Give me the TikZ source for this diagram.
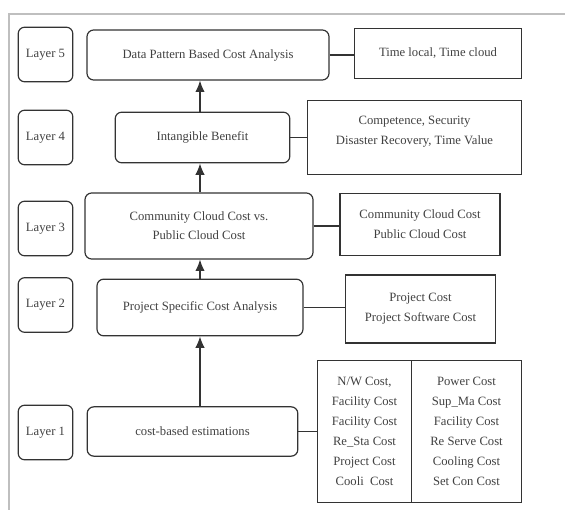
\documentclass[tikz,border=0pt]{standalone}
\usepackage{fontspec}
\setmainfont{Liberation Serif}
\usetikzlibrary{calc, arrows.meta}
\tikzset{>={Latex[length=8.5pt,width=7pt]}}
\tikzset{
  layerbox/.style={draw=black!80, line width=0.9pt, rounded corners=5pt, minimum width=41pt, minimum height=41pt, text=black!75, font=\fontsize{9.5}{14}\selectfont},
  stagebox/.style={draw=black!80, line width=0.9pt, rounded corners=5pt, align=center, text=black!75, font=\fontsize{9.5}{14}\selectfont},
  costbox/.style={draw=black!80, line width=0.9pt, align=center, text=black!75, font=\fontsize{9.5}{15}\selectfont},
  link/.style={draw=black!80, line width=0.9pt}
}

\begin{document}
\begin{tikzpicture}[x=0.75pt, y=-0.75pt]
\useasboundingbox (0,0) rectangle (565,510);
\draw[black!25, line width=1.5pt] (9,515) -- (9,14) -- (570,14);

% layers on the left
\node[layerbox] (lay5) at (45.5,54.5) {Layer 5};
\node[layerbox] (lay4) at (45.5,137.5) {Layer 4};
\node[layerbox] (lay3) at (45.5,228.5) {Layer 3};
\node[layerbox] (lay2) at (45.5,305) {Layer 2};
\node[layerbox] (lay1) at (45.5,432.5) {Layer 1};

% analysis stages
\node[stagebox, minimum width=181.5pt, minimum height=37.5pt] (l5) at (208,55) {Data Pattern Based Cost Analysis};
\node[stagebox, minimum width=131pt, minimum height=38pt] (l4) at (202.5,137.5) {Intangible Benefit};
\node[stagebox, minimum width=171pt, minimum height=49.5pt] (l3) at (199,226) {Community Cloud Cost vs.\\Public Cloud Cost};
\node[stagebox, minimum width=154.5pt, minimum height=42.5pt] (l2) at (200,307.5) {Project Specific Cost Analysis};
\node[stagebox, minimum width=158pt, minimum height=37pt] (l1) at (192.5,431.5) {cost-based estimations};

% cost items
\node[costbox, minimum width=125pt, minimum height=38pt] (r5) at (438,53.5) {Time local, Time cloud};
\node[costbox, minimum width=160pt, minimum height=56pt] (r4) at (414.5,137.5) {Competence, Security\\Disaster Recovery, Time Value\\[-4pt]\mbox{}};
\node[costbox, minimum width=120pt, minimum height=47pt] (r3) at (420,224.5) {Community Cloud Cost\\Public Cloud Cost};
\node[costbox, minimum width=113pt, minimum height=51pt] (r2) at (420.5,309) {Project Cost\\Project Software Cost};
\node[costbox, outer sep=0pt, minimum width=71pt, minimum height=107pt] (r1a) at (364.5,431.5) {N/W Cost,\\Facility Cost\\Facility Cost\\Re\_Sta Cost\\Project Cost\\Cooli\ \ Cost};
\node[costbox, outer sep=0pt, minimum width=82pt, minimum height=107pt, anchor=west] (r1b) at (r1a.east) {Power Cost\\Sup\_Ma Cost\\Facility Cost\\Re Serve Cost\\Cooling Cost\\Set Con Cost};

% links
\draw[link] (l5.east) -- (l5.east -| r5.west);
\draw[link] (l4.east) -- (l4.east -| r4.west);
\draw[link] (l3.east) -- (l3.east -| r3.west);
\draw[link] (l2.east) -- (l2.east -| r2.west);
\draw[link] (l1.east) -- (l1.east -| r1a.west);

% arrows
\draw[link, ->] (l1.north -| l2.south) -- (l2.south);
\draw[link, ->] (l2.north) -- (l2.north |- l3.south);
\draw[link, ->] (l3.north -| l2.north) -- (l4.south -| l2.north);
\draw[link, ->] (l4.north -| l2.north) -- (l5.south -| l2.north);
\end{tikzpicture}
\end{document}
